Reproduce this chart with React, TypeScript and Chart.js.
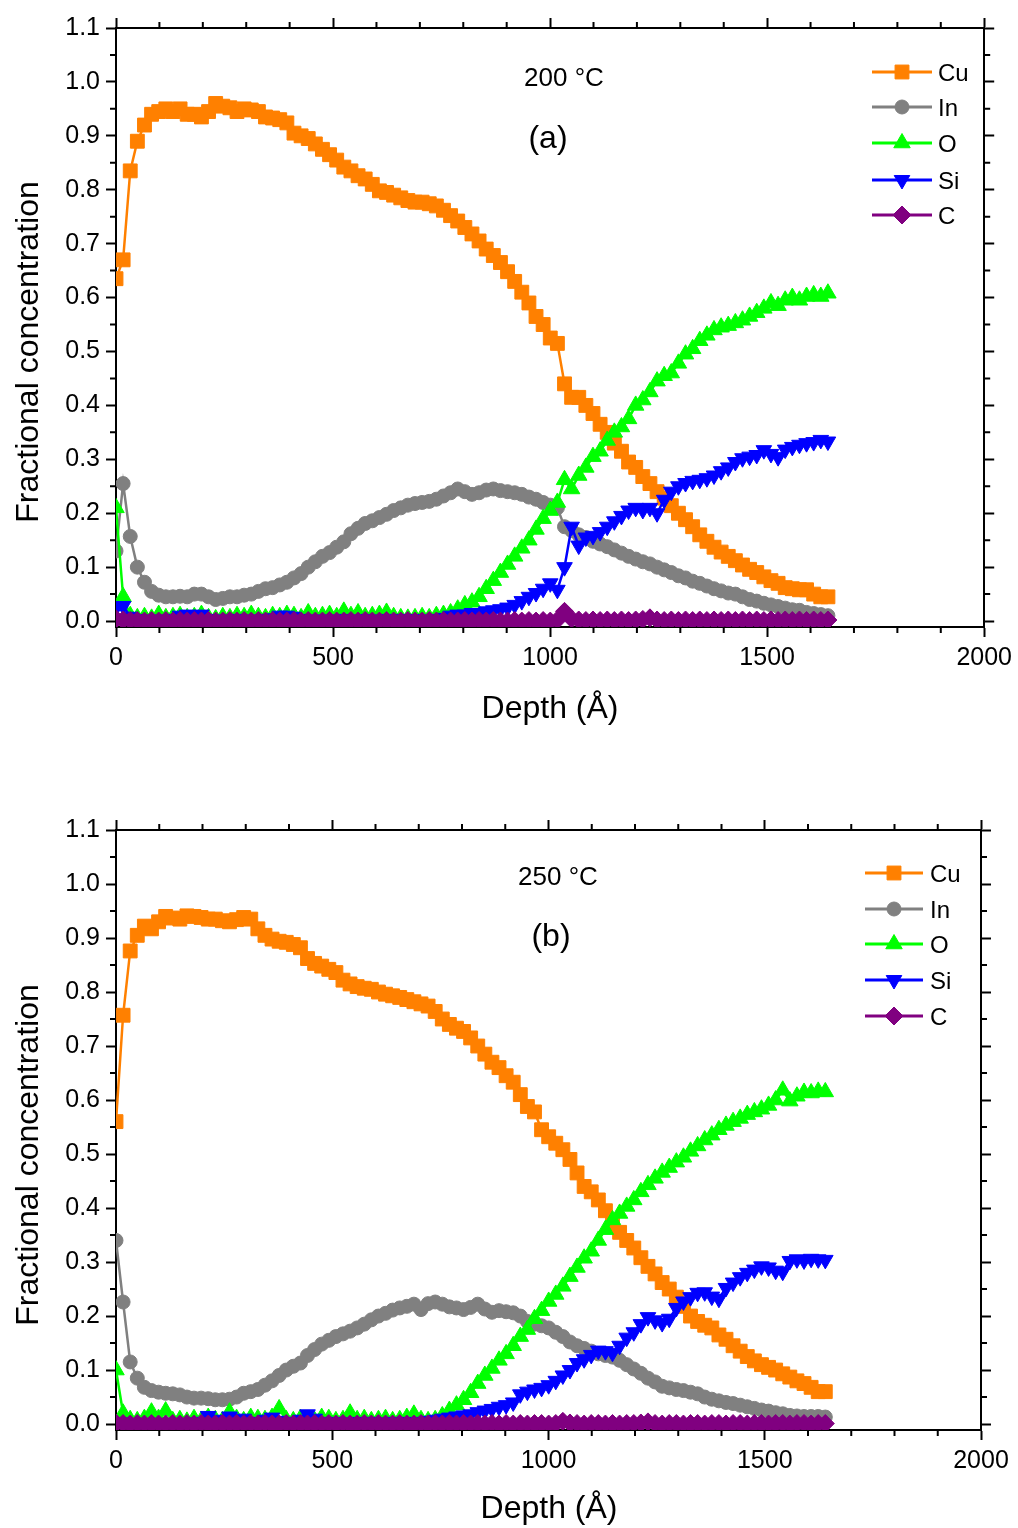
import React, { useEffect, useRef } from 'react';
import { Chart, registerables } from 'chart.js';
import { drawPoint } from 'chart.js/helpers';

Chart.register(...registerables);

// ---------------- data ----------------
const DEPTH = [
  0, 16.4, 32.8, 49.2, 65.6, 82, 98.4, 114.8, 131.2, 147.6,
  164, 180.4, 196.8, 213.2, 229.6, 246, 262.4, 278.8, 295.2, 311.6,
  328, 344.4, 360.8, 377.2, 393.6, 410, 426.4, 442.8, 459.2, 475.6,
  492, 508.4, 524.8, 541.2, 557.6, 574, 590.4, 606.8, 623.2, 639.6,
  656, 672.4, 688.8, 705.2, 721.6, 738, 754.4, 770.8, 787.2, 803.6,
  820, 836.4, 852.8, 869.2, 885.6, 902, 918.4, 934.8, 951.2, 967.6,
  984, 1000.4, 1016.8, 1033.2, 1049.6, 1066, 1082.4, 1098.8, 1115.2, 1131.6,
  1148, 1164.4, 1180.8, 1197.2, 1213.6, 1230, 1246.4, 1262.8, 1279.2, 1295.6,
  1312, 1328.4, 1344.8, 1361.2, 1377.6, 1394, 1410.4, 1426.8, 1443.2, 1459.6,
  1476, 1492.4, 1508.8, 1525.2, 1541.6, 1558, 1574.4, 1590.8, 1607.2, 1623.6,
  1640,
];

// Panel (a) 200 °C
const CU_A = [
  0.635, 0.67, 0.835, 0.89, 0.92, 0.94, 0.945, 0.95, 0.945, 0.95,
  0.94, 0.94, 0.935, 0.945, 0.96, 0.955, 0.952, 0.945, 0.95, 0.948,
  0.945, 0.935, 0.933, 0.93, 0.924, 0.905, 0.9, 0.895, 0.885, 0.875,
  0.865, 0.855, 0.842, 0.835, 0.826, 0.82, 0.81, 0.798, 0.795, 0.79,
  0.785, 0.78, 0.777, 0.777, 0.774, 0.77, 0.762, 0.752, 0.742, 0.73,
  0.718, 0.705, 0.69, 0.678, 0.665, 0.648, 0.63, 0.61, 0.59, 0.565,
  0.55, 0.525, 0.515, 0.44, 0.415, 0.415, 0.4, 0.385, 0.365, 0.35,
  0.33, 0.315, 0.295, 0.285, 0.268, 0.255, 0.24, 0.228, 0.214, 0.2,
  0.188, 0.175, 0.16, 0.148, 0.137, 0.128, 0.12, 0.112, 0.104, 0.096,
  0.09, 0.082, 0.075, 0.07, 0.062, 0.06, 0.058, 0.058, 0.05, 0.045,
  0.045,
];
const IN_A = [
  0.13, 0.255, 0.157, 0.1, 0.072, 0.055, 0.048, 0.045, 0.045, 0.046,
  0.045, 0.05, 0.05, 0.045, 0.04, 0.042, 0.045, 0.045, 0.048, 0.05,
  0.055, 0.06, 0.062, 0.067, 0.072, 0.08, 0.088, 0.1, 0.11, 0.12,
  0.127, 0.137, 0.147, 0.162, 0.172, 0.181, 0.186, 0.192, 0.198, 0.205,
  0.21, 0.215, 0.218, 0.22, 0.222, 0.226, 0.232, 0.238, 0.245, 0.24,
  0.235, 0.238, 0.243, 0.245, 0.242, 0.24, 0.238, 0.235, 0.23, 0.226,
  0.22, 0.215, 0.21, 0.175, 0.168, 0.16, 0.155, 0.148, 0.143, 0.138,
  0.132, 0.126, 0.12, 0.115, 0.11, 0.106, 0.1, 0.095, 0.09, 0.084,
  0.08, 0.074, 0.07, 0.065, 0.06, 0.056, 0.052, 0.05, 0.045, 0.04,
  0.037, 0.033, 0.03, 0.027, 0.024, 0.021, 0.02, 0.016, 0.014, 0.012,
  0.01,
];
const O_A = [
  0.21, 0.045, 0.01, 0.006, 0.008, 0.005, 0.012, 0.006, 0.008, 0.01,
  0.006, 0.008, 0.012, 0.006, 0.004, 0.008, 0.006, 0.01, 0.008, 0.012,
  0.008, 0.006, 0.01, 0.008, 0.012, 0.01, 0.006, 0.015, 0.008, 0.01,
  0.012, 0.008, 0.018, 0.01, 0.015, 0.008, 0.01, 0.012, 0.016, 0.008,
  0.006, 0.005, 0.006, 0.008, 0.006, 0.01, 0.012, 0.015, 0.022, 0.03,
  0.035, 0.045, 0.06, 0.075, 0.09, 0.105, 0.12, 0.135, 0.15, 0.17,
  0.19, 0.205, 0.22, 0.262, 0.245, 0.27, 0.285, 0.305, 0.315, 0.335,
  0.35, 0.36, 0.375, 0.4, 0.41, 0.425, 0.445, 0.455, 0.46, 0.478,
  0.495, 0.505, 0.52, 0.53, 0.54, 0.545, 0.548, 0.553, 0.558, 0.565,
  0.572, 0.58, 0.59, 0.585, 0.595, 0.6, 0.595, 0.602, 0.605, 0.602,
  0.608,
];
const SI_A = [
  0.025, 0.028, 0.008, 0.004, 0.003, 0.002, 0.003, 0.002, 0.004, 0.01,
  0.012, 0.01, 0.012, 0.004, 0.002, 0.003, 0.002, 0.004, 0.003, 0.002,
  0.003, 0.004, 0.005, 0.01, 0.01, 0.008, 0.004, 0.003, 0.002, 0.003,
  0.002, 0.003, 0.004, 0.003, 0.002, 0.004, 0.003, 0.002, 0.004, 0.003,
  0.004, 0.003, 0.004, 0.002, 0.003, 0.004, 0.006, 0.01, 0.012, 0.012,
  0.015, 0.015, 0.018, 0.02, 0.022, 0.025, 0.03, 0.037, 0.045, 0.052,
  0.06, 0.07, 0.058, 0.1, 0.175, 0.14, 0.155, 0.158, 0.165, 0.175,
  0.185, 0.195, 0.205, 0.21, 0.206, 0.21, 0.2, 0.225, 0.24, 0.25,
  0.256, 0.26, 0.262, 0.265, 0.27, 0.278, 0.285, 0.295, 0.302, 0.305,
  0.308, 0.317, 0.31, 0.304, 0.318, 0.323, 0.327, 0.33, 0.332, 0.336,
  0.333,
];
const C_A = [
  0.004, 0.002, 0.001, 0.001, 0, 0.001, 0, 0.001, 0, 0.001,
  0, 0.001, 0, 0.001, 0, 0, 0.001, 0, 0.001, 0,
  0.001, 0, 0.001, 0, 0, 0.001, 0, 0.001, 0, 0,
  0.001, 0, 0, 0.001, 0, 0.001, 0, 0, 0.001, 0,
  0, 0.001, 0, 0, 0.001, 0, 0.001, 0, 0, 0.001,
  0, 0.001, 0, 0.001, 0, 0, 0.001, 0, 0.001, 0,
  0.001, 0, 0.002, 0.018, 0.004, 0.002, 0.001, 0.002, 0.001, 0.002,
  0.001, 0.002, 0.001, 0.002, 0.003, 0.006, 0.002, 0.001, 0.002, 0.001,
  0.002, 0.001, 0.002, 0.001, 0.002, 0.001, 0.002, 0.001, 0.002, 0.001,
  0.002, 0.001, 0.002, 0.001, 0.002, 0.001, 0.002, 0.001, 0.002, 0.001,
  0.002,
];

// Panel (b) 250 °C
const CU_B = [
  0.56, 0.757, 0.876, 0.905, 0.922, 0.917, 0.93, 0.94, 0.937, 0.935,
  0.941, 0.94, 0.938, 0.935, 0.935, 0.932, 0.93, 0.934, 0.938, 0.935,
  0.917, 0.905, 0.898, 0.894, 0.892, 0.888, 0.882, 0.862, 0.853, 0.848,
  0.842, 0.836, 0.822, 0.815, 0.81, 0.807, 0.805, 0.8, 0.796, 0.793,
  0.79, 0.786, 0.782, 0.778, 0.774, 0.764, 0.75, 0.74, 0.733, 0.727,
  0.715, 0.7, 0.685, 0.67, 0.66, 0.645, 0.633, 0.61, 0.588, 0.578,
  0.545, 0.532, 0.52, 0.508, 0.49, 0.465, 0.44, 0.43, 0.415, 0.395,
  0.37, 0.355, 0.34, 0.326, 0.308, 0.292, 0.278, 0.262, 0.25, 0.235,
  0.218, 0.2, 0.19, 0.183, 0.178, 0.165, 0.157, 0.145, 0.135, 0.125,
  0.117, 0.11, 0.105, 0.1, 0.093, 0.087, 0.08, 0.075, 0.068, 0.06,
  0.06,
];
const IN_B = [
  0.34, 0.226, 0.115, 0.085, 0.068, 0.062, 0.059, 0.057, 0.056, 0.054,
  0.05, 0.048, 0.048, 0.047, 0.045, 0.045, 0.046, 0.05, 0.057, 0.06,
  0.064, 0.072, 0.08, 0.09, 0.1, 0.107, 0.113, 0.127, 0.138, 0.148,
  0.155, 0.162, 0.167, 0.172, 0.178, 0.185, 0.193, 0.2, 0.205, 0.211,
  0.215, 0.218, 0.222, 0.212, 0.223, 0.226, 0.222, 0.217, 0.215, 0.212,
  0.216, 0.222, 0.213, 0.207, 0.21, 0.208, 0.206, 0.2, 0.19, 0.185,
  0.182, 0.178, 0.17, 0.162, 0.152, 0.145, 0.14, 0.135, 0.13, 0.127,
  0.124, 0.118, 0.11, 0.102, 0.094, 0.085, 0.078, 0.07, 0.067, 0.064,
  0.062, 0.059, 0.056, 0.05, 0.046, 0.043, 0.04, 0.038, 0.035, 0.032,
  0.029, 0.026, 0.024, 0.021, 0.019, 0.016, 0.015, 0.014, 0.014, 0.014,
  0.013,
];
const O_B = [
  0.1, 0.02, 0.008, 0.006, 0.01, 0.022, 0.01, 0.024, 0.006, 0.008,
  0.005, 0.01, 0.006, 0.012, 0.008, 0.006, 0.022, 0.01, 0.006, 0.012,
  0.01, 0.008, 0.012, 0.028, 0.008, 0.006, 0.01, 0.008, 0.006, 0.012,
  0.01, 0.006, 0.008, 0.02, 0.008, 0.01, 0.006, 0.008, 0.01, 0.006,
  0.008, 0.012, 0.018, 0.008, 0.006, 0.008, 0.015, 0.025, 0.035, 0.045,
  0.058, 0.075, 0.09, 0.103, 0.118, 0.13, 0.145, 0.162, 0.175, 0.195,
  0.21, 0.227, 0.24, 0.255, 0.273, 0.29, 0.307, 0.32, 0.34, 0.36,
  0.378, 0.39, 0.403, 0.415, 0.43, 0.443, 0.455, 0.466, 0.475, 0.485,
  0.494, 0.505, 0.515, 0.526, 0.535, 0.545, 0.553, 0.56, 0.566, 0.573,
  0.578, 0.583, 0.59, 0.6, 0.618, 0.598, 0.607, 0.614, 0.613, 0.616,
  0.615,
];
const SI_B = [
  0.002, 0.003, 0.002, 0.001, 0.002, 0.001, 0.002, 0.001, 0.002, 0.001,
  0.002, 0.003, 0.004, 0.015, 0.008, 0.004, 0.014, 0.006, 0.01, 0.004,
  0.003, 0.008, 0.012, 0.006, 0.004, 0.003, 0.008, 0.018, 0.01, 0.004,
  0.003, 0.004, 0.003, 0.002, 0.004, 0.003, 0.004, 0.003, 0.002, 0.004,
  0.003, 0.004, 0.003, 0.004, 0.006, 0.008, 0.01, 0.012, 0.014, 0.016,
  0.018, 0.022, 0.025, 0.028, 0.032, 0.035, 0.04, 0.055, 0.06, 0.064,
  0.067, 0.072, 0.08, 0.09, 0.1, 0.113, 0.12, 0.128, 0.136, 0.135,
  0.132, 0.145, 0.16, 0.17, 0.185, 0.198, 0.192, 0.187, 0.195, 0.215,
  0.227, 0.235, 0.243, 0.244, 0.236, 0.232, 0.252, 0.262, 0.272, 0.28,
  0.286, 0.292, 0.29, 0.284, 0.282, 0.302, 0.305, 0.303, 0.306, 0.305,
  0.304,
];
const C_B = [
  0.002, 0.001, 0, 0.001, 0, 0.001, 0, 0, 0.001, 0,
  0.001, 0, 0.001, 0, 0, 0.001, 0, 0.001, 0, 0.001,
  0, 0.001, 0, 0, 0.001, 0, 0.001, 0, 0.001, 0,
  0.001, 0, 0.001, 0, 0, 0.001, 0, 0.001, 0, 0,
  0.001, 0, 0, 0.001, 0, 0.001, 0, 0.001, 0, 0.001,
  0, 0.001, 0, 0.001, 0, 0.001, 0, 0.001, 0, 0.001,
  0.001, 0, 0.001, 0.005, 0.002, 0.001, 0, 0.001, 0.001, 0,
  0.001, 0, 0.001, 0.001, 0.002, 0.004, 0.001, 0, 0.001, 0.001,
  0, 0.001, 0.001, 0, 0.001, 0.001, 0, 0.001, 0.001, 0,
  0.001, 0.001, 0, 0.001, 0.001, 0, 0.001, 0.001, 0, 0.001,
  0.001,
];

const SERIES_NAMES = ['Cu', 'In', 'O', 'Si', 'C'];
const X_TICKS = [0, 500, 1000, 1500, 2000];
const Y_TICKS = [0, 0.1, 0.2, 0.3, 0.4, 0.5, 0.6, 0.7, 0.8, 0.9, 1.0, 1.1];
const X_MINOR = [100, 200, 300, 400, 600, 700, 800, 900, 1100, 1200, 1300, 1400, 1600, 1700, 1800, 1900];
const Y_MINOR = [0.05, 0.15, 0.25, 0.35, 0.45, 0.55, 0.65, 0.75, 0.85, 0.95, 1.05];
const X_TITLE = 'Depth (Å)';
const Y_TITLE = 'Fractional concentration';
const TEMP_A = '200 °C';
const TEMP_B = '250 °C';
const TAG_A = '(a)';
const TAG_B = '(b)';

// ---------------- styles ----------------
const STYLES = [
  { color: '#FF8000', pointStyle: 'rect', radius: 9.8, rotation: 0 },
  { color: '#808080', pointStyle: 'circle', radius: 7, rotation: 0 },
  { color: '#00FF00', pointStyle: 'triangle', radius: 9.5, rotation: 0 },
  { color: '#0000FF', pointStyle: 'triangle', radius: 9, rotation: 180 },
  { color: '#800080', pointStyle: 'rectRot', radius: 9, rotation: 0 },
];

const TITLE_FONT = '"Liberation Sans", Arial, sans-serif';

function narrowAvailable(): boolean {
  const c = document.createElement('canvas').getContext('2d');
  if (!c) return false;
  c.font = '28px monospace';
  const a = c.measureText('0123456789.').width;
  c.font = '28px "Liberation Sans Narrow", monospace';
  const b = c.measureText('0123456789.').width;
  return Math.abs(a - b) > 1;
}

type PanelGeom = {
  leftW: number; rightW: number; topH: number; bottomH: number;
  tempText: string; tempX: number; tempY: number;
  tagText: string; tagX: number; tagY: number;
  legLine0: number; legLine1: number; legTextX: number; legRows: number[];
  xTitleX: number; xTitleY: number; yTitleX: number; yTitleY: number;
};

function buildChart(canvas: HTMLCanvasElement, series: number[][], g: PanelGeom, tickFont: any) {
  const datasets = series.map((vals, i) => ({
    label: SERIES_NAMES[i],
    data: DEPTH.map((d, k) => ({ x: d, y: vals[k] })),
    borderColor: STYLES[i].color,
    backgroundColor: STYLES[i].color,
    borderWidth: 2.5,
    pointStyle: STYLES[i].pointStyle as any,
    pointRadius: STYLES[i].radius,
    pointRotation: STYLES[i].rotation,
    pointBackgroundColor: STYLES[i].color,
    pointBorderColor: STYLES[i].color,
    pointBorderWidth: 1,
    tension: 0,
    order: 5 - i,
    clip: 0,
  }));

  const grid = {
    display: true, drawOnChartArea: false, drawTicks: true,
    tickLength: 10, tickColor: '#000', tickWidth: 2,
  };
  const border = { display: true, color: '#000', width: 2 };
  const setX = (s: any) => { s.ticks = X_TICKS.map((v) => ({ value: v })); };
  const setY = (s: any) => { s.ticks = Y_TICKS.map((v) => ({ value: v })); };

  const decorPlugin = {
    id: 'decor',
    afterDraw(chart: any) {
      const { ctx, chartArea: a, scales } = chart;
      ctx.save();
      ctx.strokeStyle = '#000';
      ctx.lineWidth = 2;
      ctx.beginPath();
      X_MINOR.forEach((v) => {
        const px = scales.x.getPixelForValue(v);
        ctx.moveTo(px, a.bottom); ctx.lineTo(px, a.bottom + 6);
        ctx.moveTo(px, a.top); ctx.lineTo(px, a.top - 6);
      });
      Y_MINOR.forEach((v) => {
        const py = scales.y.getPixelForValue(v);
        ctx.moveTo(a.left, py); ctx.lineTo(a.left - 6, py);
        ctx.moveTo(a.right, py); ctx.lineTo(a.right + 6, py);
      });
      ctx.stroke();

      // legend
      STYLES.forEach((st, i) => {
        const y = g.legRows[i];
        ctx.strokeStyle = st.color;
        ctx.lineWidth = 3;
        ctx.beginPath();
        ctx.moveTo(g.legLine0, y); ctx.lineTo(g.legLine1, y);
        ctx.stroke();
        ctx.fillStyle = st.color;
        ctx.strokeStyle = st.color;
        ctx.lineWidth = 1;
        drawPoint(ctx, { pointStyle: st.pointStyle as any, radius: st.radius, rotation: st.rotation, borderWidth: 1 } as any,
          (g.legLine0 + g.legLine1) / 2, y);
        ctx.fillStyle = '#000';
        ctx.font = `24px ${TITLE_FONT}`;
        ctx.textAlign = 'left';
        ctx.textBaseline = 'alphabetic';
        ctx.fillText(SERIES_NAMES[i], g.legTextX, y + 8.5);
      });

      // annotations
      ctx.fillStyle = '#000';
      ctx.textAlign = 'center';
      ctx.textBaseline = 'alphabetic';
      ctx.font = `26px ${TITLE_FONT}`;
      ctx.fillText(g.tempText, g.tempX, g.tempY);
      ctx.font = `32px ${TITLE_FONT}`;
      ctx.fillText(g.tagText, g.tagX, g.tagY);

      // axis titles
      ctx.font = `32px ${TITLE_FONT}`;
      ctx.fillText(X_TITLE, g.xTitleX, g.xTitleY);
      ctx.save();
      ctx.translate(g.yTitleX, g.yTitleY);
      ctx.rotate(-Math.PI / 2);
      ctx.fillText(Y_TITLE, 0, 0);
      ctx.restore();
      ctx.restore();
    },
  };

  return new Chart(canvas, {
    type: 'line',
    data: { datasets: datasets as any },
    plugins: [decorPlugin],
    options: {
      responsive: false,
      animation: false,
      devicePixelRatio: 1,
      layout: { padding: 0 },
      plugins: { legend: { display: false }, tooltip: { enabled: false } },
      scales: {
        x: {
          type: 'linear', position: 'bottom', min: 0, max: 2000,
          afterBuildTicks: setX,
          afterFit: (s: any) => { s.height = g.bottomH; },
          ticks: { font: tickFont, color: '#000', padding: 6, maxRotation: 0, autoSkip: false, callback: (v: any) => String(v) },
          grid, border,
        },
        x2: {
          type: 'linear', axis: 'x', position: 'top', min: 0, max: 2000,
          afterBuildTicks: setX,
          afterFit: (s: any) => { s.height = g.topH; },
          ticks: { display: false },
          grid, border,
        },
        y: {
          type: 'linear', position: 'left', min: -0.011, max: 1.1,
          afterBuildTicks: setY,
          afterFit: (s: any) => { s.width = g.leftW; },
          ticks: { font: tickFont, color: '#000', padding: 6, autoSkip: false, callback: (v: any) => Number(v).toFixed(1) },
          grid, border,
        },
        y2: {
          type: 'linear', axis: 'y', position: 'right', min: -0.011, max: 1.1,
          afterBuildTicks: setY,
          afterFit: (s: any) => { s.width = g.rightW; },
          ticks: { display: false },
          grid, border,
        },
      },
    } as any,
  });
}

const GEOM_A: PanelGeom = {
  leftW: 116, rightW: 33, topH: 28, bottomH: 137,
  tempText: TEMP_A, tempX: 564, tempY: 86,
  tagText: TAG_A, tagX: 548, tagY: 148,
  legLine0: 872, legLine1: 932, legTextX: 938, legRows: [72, 107, 143, 180, 215],
  xTitleX: 550, xTitleY: 718, yTitleX: 38, yTitleY: 352,
};
const GEOM_B: PanelGeom = {
  leftW: 116, rightW: 37, topH: 66, bottomH: 98,
  tempText: TEMP_B, tempX: 558, tempY: 121,
  tagText: TAG_B, tagX: 551, tagY: 182,
  legLine0: 865, legLine1: 923, legTextX: 930, legRows: [109, 145, 180, 216, 252],
  xTitleX: 549, xTitleY: 754, yTitleX: 38, yTitleY: 391,
};

export default function App() {
  const refA = useRef<HTMLCanvasElement>(null);
  const refB = useRef<HTMLCanvasElement>(null);

  useEffect(() => {
    const narrow = narrowAvailable();
    const tickFont = narrow
      ? { family: '"Liberation Sans Narrow", "Liberation Sans", Arial', size: 28 }
      : { family: '"Liberation Sans", Arial', size: 25 };
    const a = buildChart(refA.current!, [CU_A, IN_A, O_A, SI_A, C_A], GEOM_A, tickFont);
    const b = buildChart(refB.current!, [CU_B, IN_B, O_B, SI_B, C_B], GEOM_B, tickFont);
    return () => { a.destroy(); b.destroy(); };
  }, []);

  return (
    <div style={{ position: 'absolute', left: 0, top: 0, width: 1018, height: 1528, background: '#fff' }}>
      <canvas ref={refA} width={1018} height={764} style={{ display: 'block', position: 'absolute', left: 0, top: 0 }} />
      <canvas ref={refB} width={1018} height={764} style={{ display: 'block', position: 'absolute', left: 0, top: 764 }} />
    </div>
  );
}
